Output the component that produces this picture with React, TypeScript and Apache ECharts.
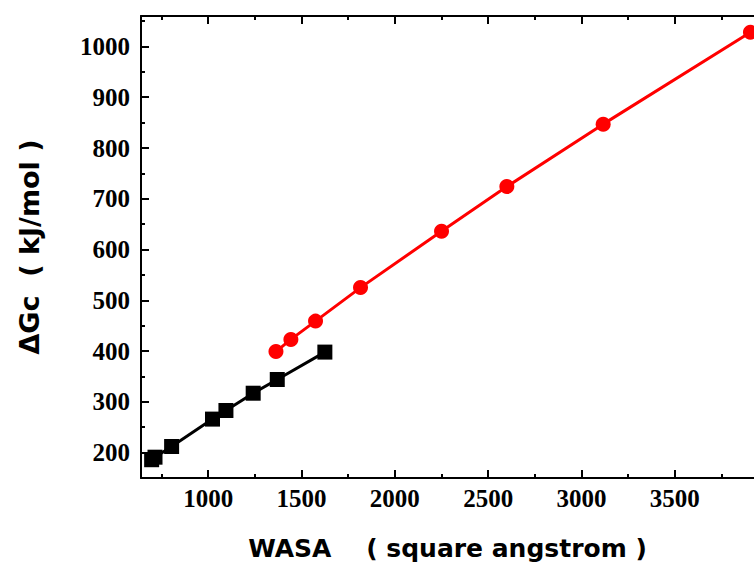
import React, { useEffect, useRef } from "react";
import * as echarts from "echarts";

const blackX = [697, 715, 804, 1023, 1095, 1241, 1370, 1625];
const blackY = [186, 191, 212, 266, 283, 317, 344, 398];
const redX = [1363, 1443, 1575, 1816, 2250, 2600, 3116, 3905];
const redY = [399, 423, 459, 525, 636, 724, 847, 1028];

const xMajor = [1000, 1500, 2000, 2500, 3000, 3500];
const xLabels = [1000, 1500, 2000, 2500, 3000, 3500];
const xMinor = [750, 1250, 1750, 2250, 2750, 3250, 3750];
const yMajor = [200, 300, 400, 500, 600, 700, 800, 900, 1000];
const yMinor = [150, 250, 350, 450, 550, 650, 750, 850, 950, 1050];

const X_MIN = 640;
const X_MAX = 3924;
const Y_MIN = 150;
const Y_MAX = 1060;

const xTitle = "WASA    ( square angstrom )";
const yTitle = "\u0394Gc  ( kJ/mol )";

export default function App() {
  const ref = useRef<HTMLDivElement>(null);
  useEffect(() => {
    if (!ref.current) return;
    const chart = echarts.init(ref.current, null, { renderer: "svg" });
    const lineStyle = { color: "#000", width: 2 };
    const labelFont = {
      fontFamily: "Liberation Serif",
      fontWeight: "bold" as const,
      fontSize: 25,
      color: "#000",
    };
    const titleFont = {
      fontFamily: "DejaVu Sans",
      fontWeight: "bold" as const,
      fontSize: 25,
      color: "#000",
    };
    const fmt = (v: number) => String(v);
    const baseX = (position: "top" | "bottom", ticks: number[], len: number, labels: number[] | null, showLine: boolean, name?: string) => ({
      type: "value" as const,
      position,
      min: X_MIN,
      max: X_MAX,
      splitLine: { show: false },
      axisLine: { show: showLine, lineStyle },
      axisTick: { show: true, inside: true, length: len, lineStyle, customValues: ticks },
      axisLabel: labels
        ? { show: true, customValues: labels, margin: 8, formatter: fmt, ...labelFont }
        : { show: false },
      name: name,
      nameLocation: "middle" as const,
      nameGap: 58,
      nameTextStyle: titleFont,
    });
    const baseY = (position: "left" | "right", ticks: number[], len: number, labels: number[] | null, showLine: boolean, name?: string) => ({
      type: "value" as const,
      position,
      min: Y_MIN,
      max: Y_MAX,
      splitLine: { show: false },
      axisLine: { show: showLine, lineStyle },
      axisTick: { show: true, inside: true, length: len, lineStyle, customValues: ticks },
      axisLabel: labels
        ? { show: true, customValues: labels, margin: 11, formatter: fmt, ...labelFont }
        : { show: false },
      name: name,
      nameLocation: "middle" as const,
      nameGap: 98,
      nameRotate: 90,
      nameTextStyle: { ...titleFont, fontSize: 27 },
    });
    chart.setOption({
      animation: false,
      backgroundColor: "#fff",
      grid: { left: 141, right: 0, top: 16, bottom: 90, containLabel: false },
      xAxis: [
        baseX("bottom", xMajor, 8, xLabels, true, xTitle),
        baseX("bottom", xMinor, 4, null, false),
        baseX("top", xMajor, 8, null, true),
        baseX("top", xMinor, 4, null, false),
      ],
      yAxis: [
        baseY("left", yMajor, 8, yMajor, true, yTitle),
        baseY("left", yMinor, 4, null, false),
      ],
      series: [
        {
          type: "line",
          xAxisIndex: 0,
          yAxisIndex: 0,
          data: blackX.map((x, i) => [x, blackY[i]]),
          symbol: "rect",
          symbolSize: 15,
          itemStyle: { color: "#000" },
          lineStyle: { color: "#000", width: 3 },
        },
        {
          type: "line",
          xAxisIndex: 0,
          yAxisIndex: 0,
          data: redX.map((x, i) => [x, redY[i]]),
          symbol: "circle",
          symbolSize: 15,
          itemStyle: { color: "#ff0000" },
          lineStyle: { color: "#ff0000", width: 3 },
        },
      ],
    });
    return () => chart.dispose();
  }, []);
  return (
    <div
      ref={ref}
      style={{ position: "fixed", left: 0, top: 0, width: 754, height: 568, background: "#fff" }}
    />
  );
}
